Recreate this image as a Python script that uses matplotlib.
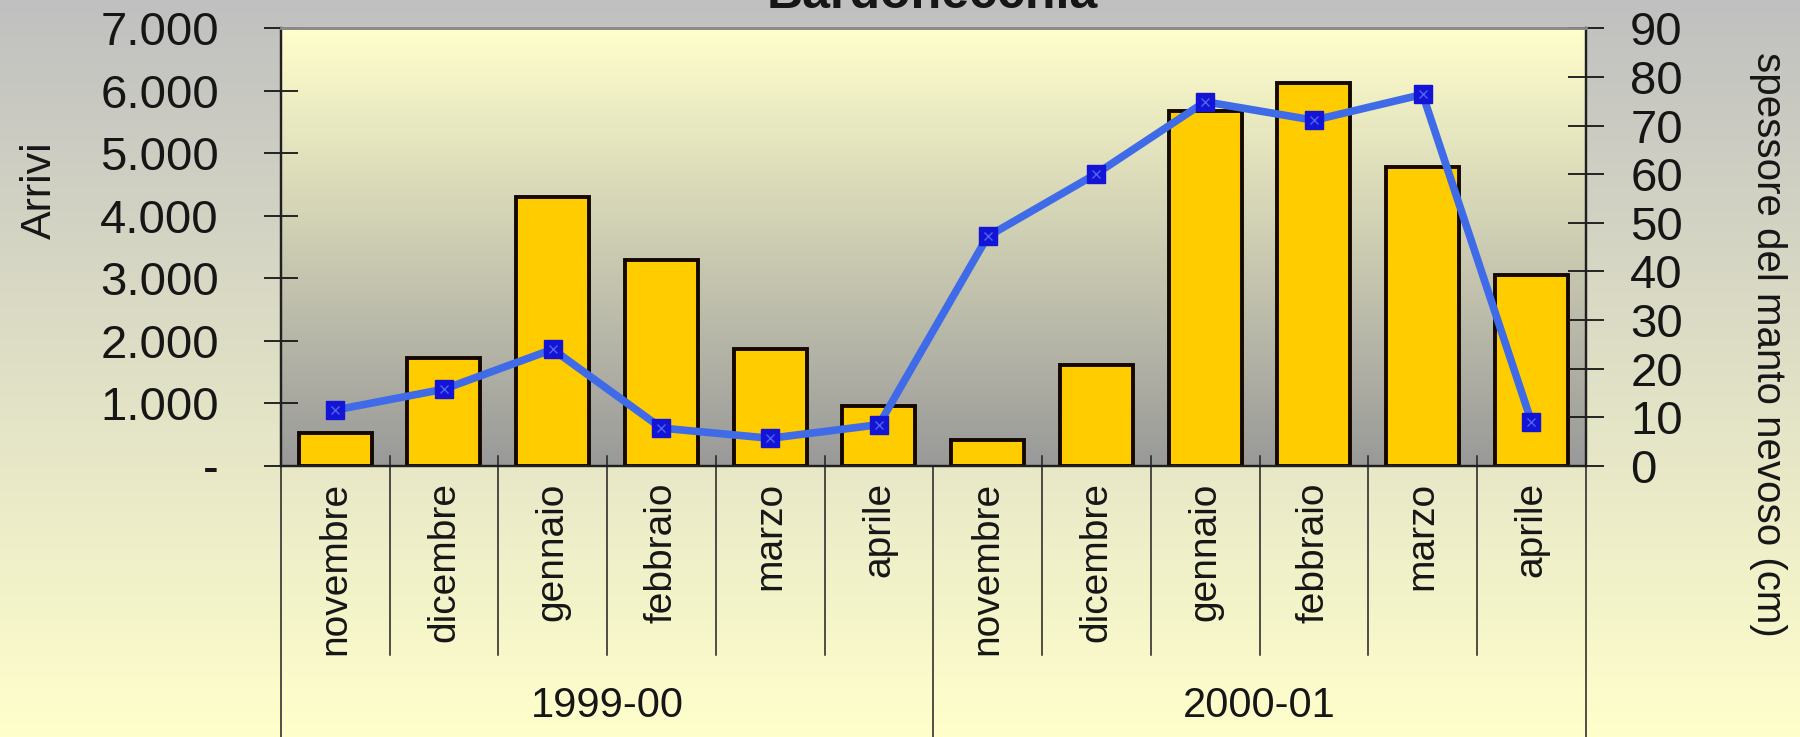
import numpy as np
import matplotlib
matplotlib.use("Agg")
import matplotlib.pyplot as plt
from matplotlib.colors import LinearSegmentedColormap
from matplotlib.lines import Line2D
from matplotlib.transforms import blended_transform_factory

# --- data -------------------------------------------------------------
stagioni = ["1999-00", "2000-01"]
mesi = ["novembre", "dicembre", "gennaio", "febbraio", "marzo", "aprile"]

arrivi_1999_00 = [530, 1720, 4310, 3300, 1870, 960]
arrivi_2000_01 = [420, 1620, 5680, 6120, 4780, 3060]

neve_1999_00 = [11.5, 15.8, 24.0, 7.8, 5.7, 8.5]
neve_2000_01 = [47.2, 60.1, 74.9, 71.1, 76.4, 9.1]

arrivi_ticks = [0, 1000, 2000, 3000, 4000, 5000, 6000, 7000]
arrivi_ticklabels = ["-", "1.000", "2.000", "3.000", "4.000", "5.000", "6.000", "7.000"]
neve_ticks = [0, 10, 20, 30, 40, 50, 60, 70, 80, 90]

# --- styling ----------------------------------------------------------
plt.rcParams["font.family"] = ["Liberation Sans", "DejaVu Sans"]
TXT = "#161616"

arrivi = arrivi_1999_00 + arrivi_2000_01
neve = neve_1999_00 + neve_2000_01
categorie = mesi * len(stagioni)
x = np.arange(len(categorie))

fig = plt.figure(figsize=(18, 7.37), dpi=100)

# figure background: grey at the top fading to pale yellow
bg = fig.add_axes([0, 0, 1, 1], zorder=-10)
bg.axis("off")
bg_cmap = LinearSegmentedColormap.from_list("bg", ["#C0C0C0", "#FFFFCC"])
bg.imshow(np.linspace(0, 1, 256).reshape(-1, 1), cmap=bg_cmap,
          aspect="auto", extent=[0, 1, 0, 1])

ax = fig.add_axes([0.156, 0.3677, 0.725, 0.5939])
ax.patch.set_visible(False)

# plot area: pale yellow at the top fading to grey at the baseline
pa_cmap = LinearSegmentedColormap.from_list("pa", ["#FFFFCC", "#999999"])
ax.imshow(np.linspace(0, 1, 256).reshape(-1, 1), cmap=pa_cmap,
          aspect="auto", extent=[0, 1, 0, 1], transform=ax.transAxes, zorder=0)

ax.bar(x, arrivi, width=0.67, color="#FFCC00", edgecolor="#140800",
       linewidth=2.8, zorder=2)

ax.set_xlim(-0.5, len(categorie) - 0.5)
ax.set_ylim(arrivi_ticks[0], arrivi_ticks[-1])
ax.set_xticks([])
ax.set_yticks(arrivi_ticks, arrivi_ticklabels)
ax.tick_params(axis="y", direction="inout", length=25, width=1.3, pad=32,
               labelsize=34, colors=TXT)

for side in ("left", "bottom", "right"):
    ax.spines[side].set_color("#202020")
    ax.spines[side].set_linewidth(1.6)
ax.spines["top"].set_color("#8A8A8A")
ax.spines["top"].set_linewidth(2.0)

# secondary axis: snow depth
ax2 = ax.twinx()
ax2.set_ylim(neve_ticks[0], neve_ticks[-1])
ax2.set_yticks(neve_ticks)
ax2.tick_params(axis="y", direction="inout", length=26, width=1.3, pad=19,
                labelsize=34, colors=TXT)
for side in ("left", "bottom", "right"):
    ax2.spines[side].set_color("#202020")
    ax2.spines[side].set_linewidth(1.6)
ax2.spines["top"].set_color("#8A8A8A")
ax2.spines["top"].set_linewidth(2.0)

ax2.plot(x, neve, color="#3F6BE8", lw=5.5, marker="s", ms=13,
         mfc="#1414D6", mec="#1414D6", zorder=3)
ax2.plot(x, neve, ls="none", marker="x", ms=6, mew=1.0, color="#4D63EE", zorder=4)

# category dividers and multi-level labels below the axis
tr = blended_transform_factory(ax.transData, ax.transAxes)
n_mesi = len(mesi)
for b in range(len(categorie) + 1):
    xb = b - 0.5
    if b % n_mesi == 0:
        y0, y1 = 0.0, -0.62
    else:
        y0, y1 = 0.023, -0.432
    ax.add_line(Line2D([xb, xb], [y0, y1], transform=tr, color="#202020",
                       lw=1.1, clip_on=False, zorder=5))

for xi, lab in zip(x, categorie):
    ax.text(xi, -0.037, lab, transform=tr, rotation=90, ha="center", va="top",
            fontsize=28, color=TXT)

for k, s in enumerate(stagioni):
    xc = k * n_mesi + (n_mesi - 1) / 2
    ax.text(xc, -0.548, s, transform=tr, ha="center", va="center",
            fontsize=30, color=TXT)

# axis titles and chart title
fig.text(0.022, 0.742, "Arrivi", rotation=90, ha="center", va="center",
         fontsize=31, color=TXT,
         family=["Liberation Sans Narrow", "Liberation Sans", "DejaVu Sans"])
fig.text(0.982, 0.533, "spessore del manto nevoso (cm)", rotation=270,
         ha="center", va="center", fontsize=29, color=TXT)
fig.text(0.518, 0.989, "Bardonecchia", ha="center", va="baseline",
         fontsize=36, weight="bold", color=TXT)

fig.savefig("out.png", dpi=100)
